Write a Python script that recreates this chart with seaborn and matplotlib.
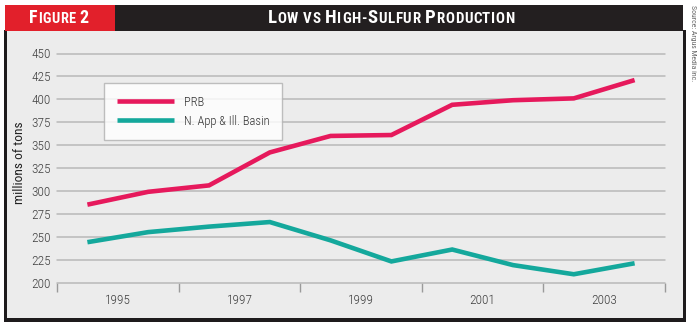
import numpy as np
import pandas as pd
import matplotlib
matplotlib.use("Agg")
import matplotlib.pyplot as plt
import seaborn as sns
from matplotlib import font_manager as fm
from matplotlib.offsetbox import TextArea, HPacker, AnnotationBbox
from matplotlib.patches import Rectangle

# ---------------- data ----------------
years = [1994, 1995, 1996, 1997, 1998, 1999, 2000, 2001, 2002, 2003]
prb = [285, 299, 306, 342, 360, 361, 394, 399, 401, 421]
napp = [244, 255, 261, 266, 246, 223, 236, 219, 209, 221]
series_names = ["PRB", "N. App & Ill. Basin"]
y_ticks = [200, 225, 250, 275, 300, 325, 350, 375, 400, 425, 450]
x_label_years = [1995, 1997, 1999, 2001, 2003]
x_bin_edges = [1994, 1996, 1998, 2000, 2002, 2004]

colors = {"PRB": "#e6195c", "N. App & Ill. Basin": "#14a89c"}

df = pd.DataFrame({
    "year": years * 2,
    "value": prb + napp,
    "series": [series_names[0]] * len(years) + [series_names[1]] * len(years),
})
df["pos"] = df["year"] + 0.5  # mid-year position

sns.set_theme(style="white")

# pick a condensed sans if one is installed
condensed = None
cond_stretch = "normal"
pref = ["Liberation Sans Narrow", "Roboto Condensed", "Open Sans Condensed",
        "Noto Sans Condensed", "DejaVu Sans Condensed"]
names = {f.name for f in fm.fontManager.ttflist}
for p in pref:
    if p in names:
        condensed = p
        break
if condensed is None:
    for f in fm.fontManager.ttflist:
        st = str(f.stretch)
        if f.name in ("Roboto", "Open Sans", "Noto Sans", "DejaVu Sans",
                      "Liberation Sans") and st in ("condensed", "semi-condensed", "extra-condensed",
                                                    "75", "87.5", "62.5"):
            condensed = f.name
            cond_stretch = "condensed"
            break
if condensed is None:
    condensed = "Liberation Sans"
FONT = [condensed, "DejaVu Sans"]
plt.rcParams["font.family"] = FONT
plt.rcParams["font.stretch"] = cond_stretch

W, H = 700, 326
fig = plt.figure(figsize=(W / 100, H / 100), dpi=100)
fig.patch.set_facecolor("white")


def px_rect(x0, y0, x1, y1, color, z):
    r = Rectangle((x0 / W, 1 - y1 / H), (x1 - x0) / W, (y1 - y0) / H,
                  transform=fig.transFigure, facecolor=color, edgecolor="none",
                  zorder=z)
    fig.add_artist(r)


# frame
px_rect(4, 30, 686, 322, "#1e1b1c", -10)
px_rect(6.5, 30, 682.5, 318, "#ececec", -9)
# header
px_rect(5, 5, 115, 31, "#e2202b", 5)
px_rect(115, 5, 683, 31, "#231f20", 5)

# ---------------- axes ----------------
ax = fig.add_axes([57 / W, (H - 282.5) / H, 608 / W, 229 / H])
ax.set_facecolor("none")
sns.lineplot(data=df, x="pos", y="value", hue="series", palette=colors,
             hue_order=series_names, linewidth=3.3, ax=ax, legend=False)
for ln in ax.get_lines():
    ln.set_solid_joinstyle("miter")
    ln.set_solid_capstyle("butt")

ax.set_xlim(x_bin_edges[0], x_bin_edges[-1])
ax.set_ylim(y_ticks[0], y_ticks[-1])
for s in ax.spines.values():
    s.set_visible(False)

ax.set_yticks(y_ticks)
ax.yaxis.grid(True, color="#b9b9b9", linewidth=1.1)
ax.set_axisbelow(True)
for gl in ax.yaxis.get_gridlines():
    gl.set_clip_on(False)
ax.tick_params(axis="y", length=0, pad=4.5, labelsize=9.6, labelcolor="#3f3f3f")

ax.set_xticks(x_bin_edges)
ax.set_xticklabels([])
ax.set_xticks(x_label_years, minor=True)
ax.set_xticklabels([str(y) for y in x_label_years], minor=True)
ax.tick_params(axis="x", which="major", length=6.5, width=1, color="#9a9a9a",
               direction="out", bottom=True)
ax.tick_params(axis="x", which="minor", length=0, pad=8.5, labelsize=9.6,
               labelcolor="#3f3f3f", bottom=True)
for lab in ax.get_yticklabels() + ax.get_xticklabels(minor=True):
    lab.set_fontweight("light")
ax.set_xlabel("")
ax.set_ylabel("")

# legend
handles = ax.get_lines()[:2]
leg = ax.legend(handles, series_names, loc="upper left",
                bbox_to_anchor=((104 - 57) / 608, (282.5 - 83) / 229),
                borderaxespad=0, frameon=True, fancybox=False,
                handlelength=4.6, handletextpad=0.8, borderpad=1.0,
                labelspacing=0.5, fontsize=9.0)
leg.get_frame().set_facecolor("white")
leg.get_frame().set_edgecolor("#b0b0b0")
leg.get_frame().set_linewidth(1.0)
for t in leg.get_texts():
    t.set_color("#333333")
    t.set_fontweight("light")

# y label
fig.text(20 / W, 1 - 163 / H, "millions of tons", rotation=90, ha="center",
         va="center", fontsize=9.6, color="#222222")

# source
fig.text(693 / W, 1 - 5 / H, "Source: Argus Media inc.", rotation=270,
         ha="center", va="top", fontsize=5.6, color="#666666")


# ---------------- header texts (small caps, letter-spaced) ----------------
def small_caps(text, x, y, big=12.5, small=9.8, sep=0.0):
    children = []
    words = text.split(" ")
    for wi, word in enumerate(words):
        for ci, ch in enumerate(word):
            is_big = ch.isupper() or ch.isdigit()
            children.append(TextArea(ch.upper(), textprops=dict(
                color="white", fontsize=big if is_big else small,
                fontweight="heavy", family=FONT, fontstretch=cond_stretch)))
        if wi < len(words) - 1:
            children.append(TextArea(" ", textprops=dict(
                color="white", fontsize=small, fontweight="heavy",
                family=FONT, fontstretch=cond_stretch)))
    pack = HPacker(children=children, align="baseline", pad=0, sep=sep)
    ab = AnnotationBbox(pack, (x / W, 1 - y / H), xycoords="figure fraction",
                        frameon=False, box_alignment=(0.5, 0.5), zorder=10)
    fig.add_artist(ab)


small_caps("Figure 2", 59, 18, big=13, small=10.4, sep=0.3)
small_caps("Low vs High-Sulfur Production", 391, 18, big=13.5, small=10.8,
           sep=0.45)

fig.savefig("out.png", dpi=100, facecolor="white")
